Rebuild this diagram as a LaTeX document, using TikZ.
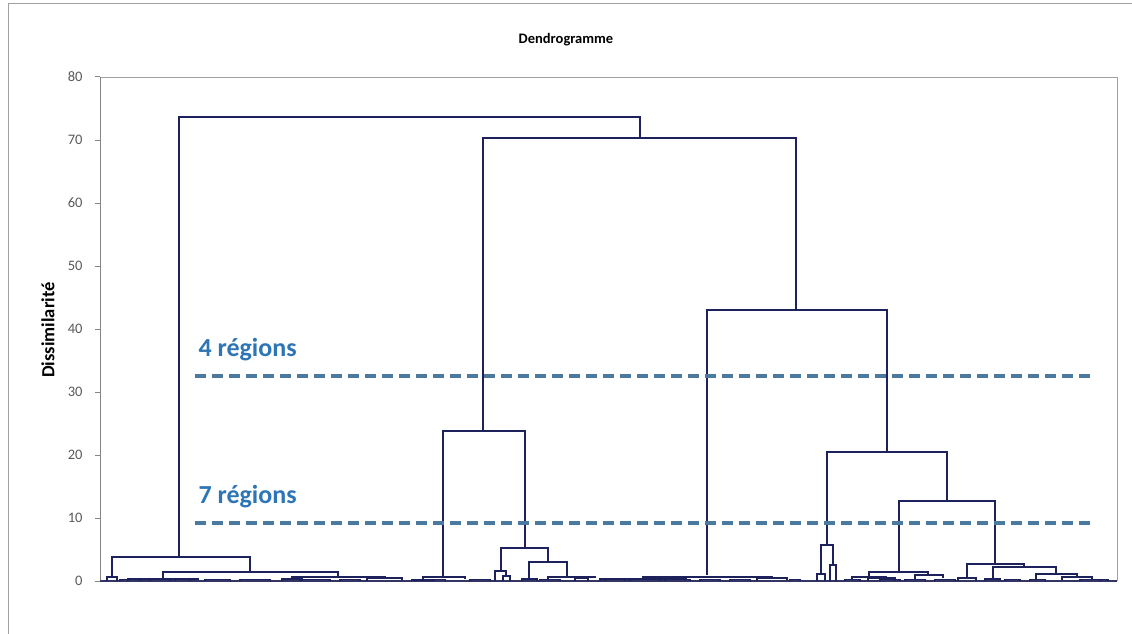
\documentclass[tikz,border=0pt]{standalone}
\usepackage{fontspec}
\setmainfont{Carlito}
\definecolor{navy}{RGB}{30,34,92}
\definecolor{axisgray}{RGB}{134,134,134}
\definecolor{framegray}{RGB}{160,160,160}
\definecolor{ticktext}{RGB}{89,89,89}
\definecolor{regblue}{RGB}{46,117,182}
\definecolor{dashblue}{RGB}{74,122,160}
\newcommand\dlink[5]{\draw[dend] (#1,#4) -- (#1,#3) -- (#2,#3) -- (#2,#5);}
\begin{document}
\begin{tikzpicture}[x=1pt,y=-1pt,
  dend/.style={draw=navy,line width=1.3pt,line join=miter},
  tiny/.style={draw=navy,line width=1.6pt},
  axisline/.style={draw=axisgray,line width=1pt},
  ticklab/.style={anchor=east,text=ticktext,font=\fontsize{14.5}{16}\selectfont},
  cutline/.style={draw=dashblue,line width=3.6pt,dash pattern=on 11pt off 6pt},
  reglab/.style={anchor=base west,text=regblue,font=\fontsize{26}{30}\selectfont\bfseries}]
\useasboundingbox (0,0) rectangle (1132,634);
% outer border
\draw[draw=framegray,line width=1pt] (8,634) -- (8,4) -- (1132,4);
% title
\node[font=\fontsize{14.5}{17}\selectfont\bfseries] (title) at (566,40) {Dendrogramme};
% plot frame and axis
\draw[draw=framegray,line width=0.8pt] (100,77) -- (1117,77) -- (1117,581);
\draw[axisline] (100,77) -- (100,581);
\foreach \v in {0,10,...,80}{
  \pgfmathsetmacro\yy{581-6.3*\v}
  \draw[axisline] (95,\yy) -- (100,\yy);
  \node[ticklab] (t\v) at (86,\yy) {\v};
}
\node[rotate=90,font=\fontsize{18.5}{20}\selectfont\bfseries] (ylab) at (48,330) {Dissimilarité};
% base line
\draw[draw=navy!80!axisgray,line width=1.2pt] (100,581) -- (1117,581);
% main structure
\dlink{179}{640}{117}{557}{138}
\dlink{483}{796}{138}{431}{310}
\dlink{707}{887}{310}{575}{452}
\dlink{443}{525}{431}{577}{548}
\dlink{827}{947}{452}{545}{501}
\dlink{899}{995}{501}{572}{564}
% cluster A
\dlink{112}{250}{557}{577}{572}
\dlink{107}{117}{577}{581}{581}
\dlink{163}{338}{572}{579}{577}
\dlink{128}{198}{579}{581}{580}
\dlink{292}{385}{577}{579}{578}
\dlink{282}{302}{579}{581}{581}
\dlink{367}{402}{578}{581}{580}
% cluster B
\dlink{423}{465}{577}{580}{579}
\dlink{412}{434}{580}{581}{581}
\dlink{501}{548}{548}{571}{562}
\dlink{495}{506}{571}{581}{576}
\dlink{503}{510}{576}{581}{581}
\dlink{529}{567}{562}{579}{577}
\dlink{522}{537}{579}{581}{581}
\dlink{548}{595}{577}{580}{578}
\dlink{575}{588}{578}{581}{581}
% cluster C
\dlink{643}{772}{577}{579}{578}
\dlink{600}{686}{579}{581}{580}
\dlink{757}{787}{578}{581}{580}
% cluster D
\dlink{821}{833}{545}{574}{565}
\dlink{817}{825}{574}{581}{581}
\dlink{830}{836}{565}{581}{581}
% cluster E
\dlink{869}{928}{572}{577}{575}
\dlink{852}{886}{577}{579}{578}
\dlink{868}{895}{578}{581}{581}
\dlink{915}{943}{575}{579}{578}
\dlink{967}{1024}{564}{578}{567}
\dlink{958}{976}{578}{581}{581}
\dlink{993}{1056}{567}{579}{574}
\dlink{985}{1000}{579}{581}{581}
\dlink{1036}{1077}{574}{580}{577}
\dlink{1062}{1092}{577}{580}{580}
% dense low-level band
\foreach \a/\b in {120/140,150/170,175/190,205/230,240/270,300/330,340/360,
  430/445,470/490,540/560,605/625,630/660,665/690,700/720,730/750,790/800,
  845/860,880/900,905/925,935/955,1005/1020,1030/1045,1080/1100,1100/1108}{
  \draw[tiny] (\a,581) -- (\a,579.6) -- (\b,579.6) -- (\b,581);
}
% cut lines
\draw[cutline] (195,376) -- (1093,376);
\draw[cutline] (195,523) -- (1093,523);
\node[reglab] (r4) at (195,356) {4 régions};
\node[reglab] (r7) at (195,503) {7 régions};
\end{tikzpicture}
\end{document}
